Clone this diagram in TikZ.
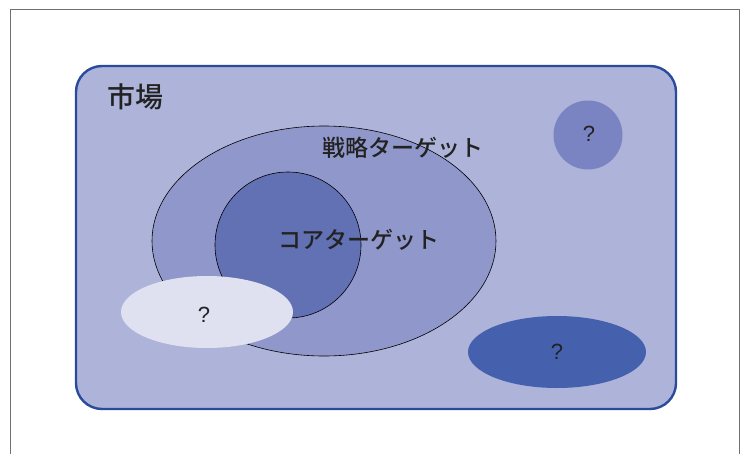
\documentclass[tikz,border=0pt]{standalone}
\usepackage{fontspec}
\setmainfont{Noto Sans CJK JP}
\newfontfamily\jpfont{Noto Sans CJK JP Medium}
\newfontfamily\qfont{Liberation Sans}
\definecolor{frameg}{HTML}{707070}
\definecolor{mkborder}{HTML}{2A4A9E}
\definecolor{mkfill}{HTML}{AEB4D9}
\definecolor{stratfill}{HTML}{9097CB}
\definecolor{corefill}{HTML}{6270B4}
\definecolor{lightfill}{HTML}{E0E1F0}
\definecolor{smallfill}{HTML}{7B84C2}
\definecolor{darkfill}{HTML}{4560AD}
\definecolor{txt}{HTML}{222222}
\begin{document}
\begin{tikzpicture}[x=1pt,y=-1pt,
  lbl/.style={text=txt,inner sep=0pt,font=\fontsize{23}{26}\selectfont\jpfont},
  qm/.style={text=txt,inner sep=0pt,font=\fontsize{22}{24}\selectfont\qfont}]
\useasboundingbox (0,0) rectangle (747,453);
\draw[frameg,line width=1pt] (10.5,460) -- (10.5,9.5) -- (739.5,9.5) -- (739.5,460);
\draw[mkborder,fill=mkfill,line width=2.4pt,rounded corners=26pt] (76,66) rectangle (676,409);
\node[lbl,font=\fontsize{28}{30}\selectfont\jpfont] (market) at (135,97) {市場};
\draw[black,line width=0.6pt,fill=stratfill] (324,241) ellipse [x radius=172,y radius=115];
\coordinate (strat) at (324,241);
\draw[black,line width=0.6pt,fill=corefill] (288,245) circle [radius=73];
\coordinate (core) at (288,245);
\fill[lightfill] (207,312) ellipse [x radius=86,y radius=36];
\fill[smallfill] (588,135) circle [radius=34.5];
\fill[darkfill] (557,352) ellipse [x radius=89,y radius=36];
\node[lbl] (stratlbl) at (403,148) {戦略ターゲット};
\node[lbl] (corelbl) at (359,240) {コアターゲット};
\node[qm] (q1) at (204,315) {?};
\node[qm] (q2) at (589,134) {?};
\node[qm] (q3) at (557,352) {?};
\end{tikzpicture}
\end{document}
